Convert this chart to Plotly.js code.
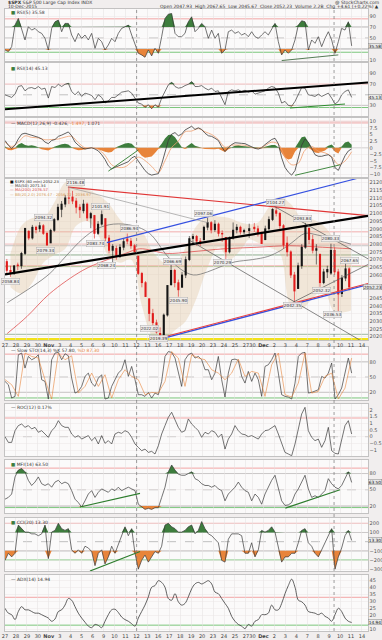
<!DOCTYPE html>
<html><head><meta charset="utf-8">
<script src="https://cdn.plot.ly/plotly-3.0.1.min.js"></script>
<style>html,body{margin:0;padding:0;background:#f1eeee;}#chart{width:382px;height:640px;}</style>
</head><body><div id="chart"></div>
<script>
// ---------- DATA ----------
const dayLabels = ['27','28','29','30','Nov','3','4','5','6','9','10','11','12','13','16','17','18','19','20','23','24','25','27','30','Dec','2','3','4','7','8','9','10','11','14'];
const halfSessionIndex = 22; // Nov 27 half session

const candleOpen = [
2068.7,2063,2061, 2066.5,2066,2074, 2088.4,2084,2091, 2090,2092,2087,
2080.8,2089,2096, 2102.6,2106,2110, 2110.6,2108,2104, 2101.7,2106,2097, 2098.6,2087,2093,
2096.6,2084,2076, 2077.2,2072,2078, 2083.4,2082,2079, 2072.3,2061,2055, 2044.6,2035,2029,
2022.1,2021,2034, 2053.7,2063,2055, 2052,2060,2070, 2083.7,2085,2082, 2082.8,2091,2094,
2089.4,2093,2087, 2084.4,2075,2084, 2089.3,2091,2088, 2088.8,
2091,2090,2087, 2082.9,2090,2096, 2101.7,2100,2092, 2080.7,2075,2060, 2051.2,2066,2078,
2090.4,2083,2076, 2073.4,2055,2062, 2061.2,2076,2062, 2047.9,2058,2064];
const candleHigh = [
2070.4,2066,2066.5, 2068,2075,2090.4, 2089,2092.5,2092, 2094.3,2093,2088,
2090,2097,2106.2, 2108,2112,2116.5, 2114.6,2110,2106, 2108.8,2107,2101, 2099,2095,2101.9,
2096.6,2086,2080, 2079,2080,2083.7, 2086.9,2084,2080, 2072.3,2062,2056, 2044.6,2038,2031,
2026,2035,2053.2, 2066.7,2064,2057, 2062,2072,2085.3, 2086.7,2086,2084, 2092,2097.1,2095,
2095.6,2094,2089, 2084.4,2085,2094.1, 2093,2092,2090, 2093.3,
2093.8,2092,2088, 2092,2098,2103.4, 2104.3,2101,2093, 2085,2076,2062, 2068,2080,2093.8,
2090.4,2086,2080, 2073.9,2064,2066, 2080.3,2078,2064, 2060,2067.7,2065];
const candleLow = [
2061,2058.8,2060, 2063.1,2064,2073, 2082.6,2083,2087, 2088,2086,2079.3,
2080.8,2088,2095, 2097.5,2104,2106, 2106,2100,2097, 2100,2095,2090.4, 2083.7,2086,2092,
2082,2074,2068.2, 2069.9,2071,2076, 2080,2077,2074.9, 2060,2052,2045.7, 2030,2027,2022,
2019.4,2020,2033, 2053,2052,2045.9, 2052,2058,2069, 2080,2079,2078.8, 2082.8,2089,2087,
2088,2085,2081.4, 2070.3,2074,2083, 2087,2086.3,2086.5, 2084.1,
2088,2085,2080.4, 2082.9,2089,2095, 2098,2090,2077.1, 2072,2058,2042.4, 2051.2,2064,2077,
2080,2074,2066.8, 2052.3,2054,2058, 2060,2060,2036.5, 2045.7,2056,2050];
const candleClose = [
2063,2061,2065.9, 2066,2074,2090.3, 2084,2091,2089.4, 2092,2087,2079.4,
2089,2096,2104, 2106,2110,2109.8, 2108,2104,2102.3, 2106,2097,2099.9, 2087,2093,2099.2,
2084,2076,2078.6, 2072,2078,2081.7, 2082,2079,2075, 2061,2055,2046, 2035,2029,2023,
2021,2034,2053.2, 2063,2055,2050.4, 2060,2070,2083.6, 2085,2082,2081.2, 2091,2094,2089.2,
2093,2087,2086.6, 2075,2084,2089.1, 2091,2088,2088.9, 2090.1,
2090,2087,2080.4, 2090,2096,2102.6, 2100,2092,2079.5, 2075,2060,2049.6, 2066,2078,2091.7,
2083,2076,2077.1, 2055,2062,2063.6, 2076,2062,2047.6, 2058,2064,2052.2];

const ma50Days = [0.2,2.6,4.1,5.6,7.1,8.4,9.9,11.7,13.2,14.8,16,17.2,18.5,19.9,21,22.6,24,25.2,26.2,27.4,28.5,29.7,30.6,31.6];
const ma50Vals = [2042,2053,2061,2072.5,2083.5,2090,2093,2092,2087,2072.5,2064,2060,2062,2066,2068.5,2070,2072,2076,2081,2087,2086,2084,2082,2080];
const ma200Days = [0.2,2,4.1,7.1,9,11,12.3,14.8,16.9,20,23,26,29,31.6];
const ma200Vals = [2022,2033,2048,2063,2069,2074,2077,2074,2075,2077,2078,2079,2078,2077];
const bbDays  = [0.5,1.5,2.5,3.5,4.5,5.5,6.5,7.5,8.5,9.5,10.5,11.5,12.5,13.5,14.5,15.5,16.5,17.5,18.5,19.5,20.5,21.5,22.3,23.1,24.1,25.1,26.1,27.1,28.1,29.1,30.1,31.1,31.6];
const bbUpper = [2074,2092,2097,2097,2107,2120,2120,2116,2112,2106,2096,2090,2088,2075,2068,2066,2078,2092,2098,2098,2097,2094,2093,2094,2104,2111,2106,2097,2096,2092,2084,2080,2077];
const bbLower = [2052,2048,2055,2068,2073,2077,2092,2095,2086,2072,2068,2070,2040,2020,2018,2024,2030,2045,2065,2078,2070,2076,2083,2081,2078,2074,2040,2038,2045,2050,2036,2036,2037];

const priceLabelDays = [0.5,3.5,3.7,6.4,8.7,8.3,11.4,9.3,13.2,14.0,15.3,15.8,18.1,19.9,24.7,27.2,26.3,28.9,29.7,29.95,31.5];
const priceLabelVals = [2055.5,2097,2076,2120.3,2104.5,2080.5,2090,2066,2025,2018.8,2069,2043.5,2100,2068,2107,2096.5,2040,2050,2083.5,2034.5,2069.5];
const priceLabelText = ['2058.84','2094.32','2079.34','2116.48','2101.91','2083.74','2086.94','2068.24','2022.02','2019.39','2066.69','2045.90','2097.06','2070.29','2104.27','2093.84','2042.35','2052.32','2080.33','2036.53','2067.65'];

const priceLevels = [2088,2080,2073,2065.5,2021.5,2018.5];

// trend lines: [day0, value0, day1, value1]
const priceTrends = [
 [5.75,2117,33.15,2098.5],
 [9.3,2081,33.15,2124.5],
 [0,2060.4,33.15,2098.4],
 [5.75,2117,18.5,2094],
 [24.6,2104.5,33.15,2070.5],
 [16.9,2082.3,32.7,2016.5],
 [26.3,2042.3,33.15,2066.8],
 [13.97,2018.0,33.15,2053.7],
 [13.97,2018.8,33.15,2054.5]];
const rsi5Trend = [25.27,8.8,30.44,19.1];
const rsi14Trends = [[0,22.7,33.15,73.0],[26.03,25.1,31.05,32.6]];
const macdTrends = [[9.44,-8.8,12.18,-0.83],[26.48,-10.36,30.59,-6.43]];
const mfiTrends = [[6.85,18.1,12.33,43.4],[25.6,16,30.6,50]];
const cciTrend = [7.76,-320,12.33,-108];

const rsi5 = [28.2,25.2,34.2,73.6,85.8,64.5,46.4,70.6,64.5,67.6,
61.5,58.5,49.4,28.2,67.6,79.7,82.7,61.5,76.7,76.7,
55.5,43.3,58.5,49.4,55.5,46.4,58.5,31.2,49.4,43.3,
28.2,37.3,49.4,43.3,58.5,67.6,70.6,73.6,55.5,40.3,
22.1,19.1,14.8,28.2,17.3,31.2,22.1,52.4,85.8,93.6,
94.8,58.5,52.4,52.4,58.5,79.7,88.8,61.5,67.6,76.7,
70.6,49.4,64.5,49.4,58.5,22.1,28.2,61.5,64.5,58.5,
61.5,55.5,58.5,52.4,61.5,52.4,49.4,55.5,61.5,55.5,
67.6,76.7,43.3,19.1,28.2,22.1,28.2,46.4,73.6,81.5,
79.7,28.2,46.4,40.3,52.4,34.2,49.4,61.5,46.4,22.1,
43.3,67.6,64.5,79.7,35.58];
const rsi14 = [50,46.9,45.0,51.2,65.6,67.4,57.5,62.5,63.7,61.2,
65.6,60.6,62.5,43.8,65.6,63.7,69.9,65.6,69.9,71.8,
56.2,50,56.2,46.9,53.1,51.2,48.8,40.7,50,45.0,
34.4,38.8,45.0,45.0,50,55.0,56.2,57.5,53.1,43.8,
34.4,32.6,26.3,31.3,23.8,31.3,26.3,43.8,57.5,68.7,
73.7,65.6,62.5,63.7,67.4,69.9,74.9,65.6,65.6,67.4,
62.5,59.3,62.5,56.2,57.5,43.8,31.3,56.2,59.3,57.5,
59.3,56.2,58.7,55.0,57.5,51.2,53.1,56.2,57.5,62.5,
65.6,63.7,53.1,34.4,37.5,30.1,28.5,37.5,50,63.7,
62.5,50,48.8,46.9,51.2,46.9,50,53.1,43.8,32.6,
37.5,50,56.2,59.3,45.13];
const macdLine = [2.74,0.95,-0.24,0.95,3.33,5.12,5.48,5.12,4.76,4.29,
3.93,3.33,2.14,1.55,2.74,3.10,4.29,4.76,5.48,5.95,
4.52,2.14,0.95,0,-0.48,-0.24,0,-0.48,-1.19,-2.62,
-4.40,-6.79,-7.98,-7.38,-6.79,-6.19,-5.60,-5.24,-3.81,-3.21,
-5.00,-6.79,-8.57,-9.76,-10.3,-10.0,-9.76,-6.19,-1.43,2.74,
5.12,5.71,4.52,5.12,6.67,7.5,8.10,6.90,7.5,6.90,
5.48,4.52,4.29,3.57,2.74,0.36,-1.43,0,1.19,1.90,
1.90,1.67,1.55,0.95,0.36,-0.24,-0.48,0,1.19,2.14,
3.10,3.57,1.55,-3.81,-7.38,-9.17,-10.3,-8.57,-3.81,0.95,
3.33,2.14,-0.24,-2.62,-3.21,-3.21,-2.86,-2.62,-3.5,-7.5,
-8.5,-6.0,-3.0,-1.2,-0.43];
const macdSignal = [2.2,0.5,2.1,4.5,3.9,3.7,3.0,3.1,3.3,4.0,
4.3,1.9,0,-0.1,-0.6,-2.9,-6.4,-7.4,-7.2,-5.3,
-3.5,-4.8,-7.0,-9.3,-4.9,0.1,2.5,6.0,6.3,7.2,
6.0,5.0,3.1,0.2,1.0,1.0,0.95,0.06,-0.2,0.8,
2.1,1.35,-3.5,-6.4,-5.8,-0.9,0.5,-1.3,-1.9,-3.3,
-6.3,-5.0,-1.5];
const macdHist = [0.5,-0.8,-0.9,-0.3,1.2,1.8,1.0,0.8,0.9,0.7,
0.2,-0.6,-0.9,-1.0,-0.4,0.5,1.0,1.3,1.5,1.2,
0.2,-0.6,-0.9,-0.8,-0.5,-0.2,0.1,-0.3,-0.6,-1.0,
-1.5,-1.8,-1.6,-0.5,0.6,1.2,1.6,1.8,1.5,0.3,
-1.5,-3.0,-3.8,-3.6,-3.3,-2.0,-0.5,1.5,3.5,4.8,
5.0,4.0,2.0,0.3,-0.5,1.0,1.8,0.8,0.3,-0.2,
-0.5,-0.6,-0.7,-0.6,-0.4,-1.0,-1.6,-0.6,0.2,0.8,
0.9,0.7,0.6,0.5,0.3,0.2,-0.3,-0.2,0.4,0.8,
1.0,1.0,0.2,-2.0,-3.8,-4.4,-4.0,-1.5,2.0,4.0,
4.2,2.0,-0.8,-1.8,-2.0,-1.6,-1.0,0.8,1.2,-1.5,
-2.2,0.5,2.0,2.4,1.1];
const stochK = [41.5,35.0,8.8,12.1,93.8,97.1,67.6,90.5,84.0,87.3,
93.8,44.8,41.5,6.9,84.0,97.1,98.4,84.0,95.8,91.8,
48.0,18.6,21.9,31.7,51.3,57.8,38.2,31.7,48.0,54.6,
6.9,8.8,31.7,44.8,57.8,64.4,84.0,51.3,70.9,44.8,
15.4,15.4,12.1,19.9,8.8,18.6,15.4,41.5,90.5,100,
98.4,87.3,57.8,31.7,84.0,93.8,97.1,87.3,90.5,84.0,
64.4,64.4,44.8,57.8,90.5,44.8,10.8,57.8,84.0,85.3,
82.7,51.3,38.2,61.1,41.5,57.8,44.8,12.1,70.9,74.2,
84.0,97.1,57.8,15.4,12.1,10.8,6.9,38.2,90.5,97.1,
98.4,18.6,19.9,21.9,25.2,51.3,48.0,57.8,77.5,6.9,
15.4,28.4,57.8,87.3,57.8];
const stochD = [45,35.0,12.1,97.1,90.5,87.3,44.8,6.9,97.1,84.0,
91.8,18.6,31.7,57.8,31.7,54.6,8.8,44.8,64.4,51.3,
44.8,15.4,19.9,18.6,41.5,100,87.3,31.7,93.8,87.3,
84.0,64.4,57.8,44.8,57.8,85.3,51.3,61.1,57.8,12.1,
74.2,97.1,15.4,10.8,38.2,97.1,18.6,21.9,51.3,57.8,
6.9,28.4,87.3];
const roc12 = [0,-0.43,-0.43,0.45,0.83,0.95,0.7,0.83,0.58,0.7,
0.33,0.45,0.2,-0.05,0.45,0.7,1.2,0.83,0.7,0.7,
0.2,-0.05,0.08,-0.18,-0.05,0.08,-0.3,-0.05,-0.55,0.08,
-0.5,-0.3,-0.55,0.2,0.33,0.25,0.45,0.33,-0.05,-0.55,
-0.8,-1.05,-0.93,-1.18,-1.1,-1.3,-0.68,0.2,0.83,1.45,
1.83,1.2,0.7,0.33,0.45,1.33,0.95,0.7,0.45,-0.05,
0.33,0.2,0.45,0.33,-0.05,0.2,-0.93,-0.18,0.2,0.83,
0.45,0.2,0.15,0,0.08,-0.05,-0.18,0.2,0.45,0.5,
0.7,0.83,0.2,-0.55,-1.18,-1.3,-1.43,-0.55,0.7,1.7,
2.2,0.45,-0.05,-0.3,-0.18,-0.8,-0.3,0.7,-1.05,-1.25,
-1.3,-0.3,0.83,1.2,0.2];
const mfi14 = [32.6,35.8,42.1,73.7,86.3,89.5,83.2,67.4,57.9,64.2,
73.7,61.1,57.9,61.1,54.7,64.2,67.4,61.1,64.2,61.1,
48.4,32.6,26.3,18.1,29.5,42.1,48.4,35.8,45.3,51.6,
48.4,45.3,51.6,48.4,54.7,48.4,51.6,54.7,51.6,48.4,
23.2,18.1,13.7,15.6,13.7,16.8,16.8,35.8,54.7,83.2,
95.8,86.3,78.7,76.8,76.8,80.0,83.2,70.5,67.4,61.1,
57.9,57.9,54.7,57.9,51.6,48.4,29.5,42.1,48.4,54.7,
64.2,54.7,48.4,45.3,29.5,42.1,35.8,23.2,42.1,54.7,
67.4,76.8,54.7,29.5,21.0,22.0,26.3,42.1,51.6,64.2,
76.8,51.6,35.8,38.9,35.8,42.1,48.4,70.5,61.1,54.7,
51.6,57.9,70.5,83.2,63.5];
const cci20 = [-204,-127,-166,-127,181,142,104,104,85,85,
65,85,181,-185,104,123,200,142,123,142,
-89,-127,-89,-127,-50,-69,-108,-262,-127,-89,
-243,-166,-50,-127,-31,46,162,65,142,-127,
-300,-204,-146,-223,-166,-108,-127,-50,181,200,
162,142,104,104,123,162,181,85,123,219,
142,85,65,27,-12,-204,-223,27,85,85,
85,65,-127,-127,-12,-166,-89,123,104,123,
162,104,-50,-223,-166,-166,-127,-127,-12,123,
142,-12,-50,-127,-166,-89,-12,65,142,-300,
-166,-69,65,123,13.3];
const adx14 = [25.1,21.6,20.5,17.0,22.8,26.3,24.0,24.0,22.8,21.6,
21.6,20.5,19.3,18.1,15.8,17.4,22.8,24.0,27.4,32.1,
30.9,26.3,21.6,18.1,15.1,12.3,11.2,13.5,12.8,11.2,
15.8,20.5,24.0,24.4,22.1,18.8,17.0,15.8,14.0,12.3,
18.1,22.8,27.4,33.3,40.2,41.4,44.9,43.7,40.2,32.1,
30.9,35.6,29.8,27.4,28.6,33.3,39.1,42.6,43.7,42.6,
43.7,44.9,42.6,36.7,35.6,32.1,28.6,25.1,19.3,15.8,
13.5,12.3,10.5,13.5,12.3,15.8,17.0,20.5,20.5,21.6,
27.4,24.0,24.0,28.6,35.6,41.4,46.0,40.2,30.9,29.8,
27.4,22.8,22.1,21.6,20.5,21.6,19.3,18.1,15.8,20.5,
25.1,22.8,18.1,15.8,14.94];

const headerLeft = ['<b>$SPX</b> S&P 500 Large Cap Index INDX', '10-Dec-2015'];
const headerRight = ['@ StockCharts.com', 'Open 2047.93  High 2067.65  Low 2045.67  Close 2052.23  Volume 2.2B  Chg +4.61 (+0.22%) \u25B2'];
const legends = {
  rsi5: 'RSI(5) 35.58', rsi14: 'RSI(14) 45.13',
  macd: ['MACD(12,26,9) -0.426, ', '-1.497', ', 1.071'],
  price: ['$SPX (60 min) 2052.23', 'MA(50) 2071.34', 'MA(200) 2076.57', 'BB(20,2.0) 2076.47 - 2056.72 - 2036.97'],
  stoch: ['Slow STO(14,3) %K 57.80, ', '%D 87.30'],
  roc: 'ROC(12) 0.17%', mfi: 'MFI(14) 63.50', cci: 'CCI(20) 13.30', adx: 'ADX(14) 14.94'
};

// ---------- BUILD ----------
const W = 382, H = 640, MB = 9, PH = H - MB;
const dom = (t, b) => [(PH - b) / PH, (PH - t) / PH];
const pp = p => (PH - p) / PH;
const dayPos = dayLabels.map((_, i) => i > halfSessionIndex ? i - 0.4 : i);
const dayLen = i => i === halfSessionIndex ? 0.6 : 1;
const tickText = dayLabels.map(l => (l === 'Nov' || l === 'Dec') ? '<b>' + l + '</b>' : l);
const SAMPLES_PER_DAY = 3.285;
const xs = n => Array.from({length: n}, (_, k) => k / SAMPLES_PER_DAY);
const xs2 = n => Array.from({length: n}, (_, k) => 2 * k / SAMPLES_PER_DAY);

const candleX = [];
for (let d = 0; d < 32; d++) {
  const n = d === halfSessionIndex ? 1 : 3;
  for (let j = 0; j < n; j++) candleX.push(dayPos[d] + dayLen(d) * (j + 0.5) / n);
}

const GREEN = '#3d7d3d', ORANGE = '#e8843a', LINE = '#3a3a3a';
const traces = [];
const L = (x, y, ya, color, width, extra) => traces.push(Object.assign({type: 'scatter', mode: 'lines', x, y, xaxis: ya === 'y4' ? 'x2' : 'x', yaxis: ya, line: {color, width}, hoverinfo: 'skip'}, extra || {}));

function bandFills(x, v, ya, hi, lo) {
  L(x, x.map(() => hi), ya, 'rgba(0,0,0,0)', 0);
  L(x, v.map(a => Math.max(a, hi)), ya, 'rgba(0,0,0,0)', 0, {fill: 'tonexty', fillcolor: GREEN});
  L(x, x.map(() => lo), ya, 'rgba(0,0,0,0)', 0);
  L(x, v.map(a => Math.min(a, lo)), ya, 'rgba(0,0,0,0)', 0, {fill: 'tonexty', fillcolor: ORANGE});
}

// Panel 1 RSI5
bandFills(xs(rsi5.length), rsi5, 'y', 70, 30);
L(xs(rsi5.length), rsi5, 'y', LINE, 0.7);
// Panel 2 RSI14
bandFills(xs(rsi14.length), rsi14, 'y2', 70, 30);
L(xs(rsi14.length), rsi14, 'y2', LINE, 0.7);
// Panel 3 MACD
L(xs(macdHist.length), macdHist.map(v => Math.max(v, 0)), 'y3', 'rgba(0,0,0,0)', 0, {fill: 'tozeroy', fillcolor: GREEN});
L(xs(macdHist.length), macdHist.map(v => Math.min(v, 0)), 'y3', 'rgba(0,0,0,0)', 0, {fill: 'tozeroy', fillcolor: ORANGE});
L(xs2(macdSignal.length), macdSignal, 'y3', '#f0a070', 0.8, {line: {color: '#f0a070', width: 0.8, shape: 'spline'}});
L(xs(macdLine.length), macdLine, 'y3', LINE, 0.8);
// Panel 4 price
L(bbDays, bbUpper, 'y4', 'rgba(0,0,0,0)', 0, {line: {width: 0, shape: 'spline'}});
L(bbDays, bbLower, 'y4', 'rgba(0,0,0,0)', 0, {fill: 'tonexty', fillcolor: 'rgba(222,190,150,0.33)', line: {width: 0, shape: 'spline'}});
L(ma200Days, ma200Vals, 'y4', '#e05050', 0.8, {line: {color: '#e05050', width: 0.8, shape: 'spline'}});
L(ma50Days, ma50Vals, 'y4', '#777', 0.8, {line: {color: '#777', width: 0.8, shape: 'spline'}});
// candles drawn as wick + body segments through the price axes
function candleTrace(up) {
  const wx = [], wy = [], bx = [], by = [];
  candleX.forEach((x, i) => {
    const isUp = candleClose[i] >= candleOpen[i];
    if (isUp !== up) return;
    wx.push(x, x, null); wy.push(candleLow[i], candleHigh[i], null);
    const lo = Math.min(candleOpen[i], candleClose[i]), hi = Math.max(candleOpen[i], candleClose[i]);
    bx.push(x, x, null); by.push(lo - 0.25, hi + 0.25, null);
  });
  const col = up ? '#151515' : '#e01b1b';
  L(wx, wy, 'y4', col, 0.6);
  L(bx, by, 'y4', col, 2.1);
}
candleTrace(true); candleTrace(false);
// Panel 5 stoch
L(xs(stochK.length), stochK, 'y5', LINE, 0.7);
L(xs2(stochD.length), stochD, 'y5', 'rgba(232,132,58,0.85)', 0.7);
// Panel 6 ROC
L(xs(roc12.length), roc12, 'y6', LINE, 0.7);
// Panel 7 MFI
bandFills(xs(mfi14.length), mfi14, 'y7', 80, 20);
L(xs(mfi14.length), mfi14, 'y7', LINE, 0.7);
// Panel 8 CCI
bandFills(xs(cci20.length), cci20, 'y8', 100, -100);
L(xs(cci20.length), cci20, 'y8', LINE, 0.7);
// Panel 9 ADX
L(xs(adx14.length), adx14, 'y9', LINE, 0.8, {line: {color: LINE, width: 0.8, shape: 'spline'}});

// ---------- SHAPES ----------
const shapes = [];
const hline = (yref, y, color, width, dash) => shapes.push({type: 'line', xref: 'paper', x0: 0, x1: 1, yref, y0: y, y1: y, line: {color, width, dash: dash || 'solid'}, layer: 'below'});
const seg = (xref, yref, t, color, width) => shapes.push({type: 'line', xref, yref, x0: t[0], y0: t[1], x1: t[2], y1: t[3], line: {color, width}});
const PINK = '#f2a5a5', GR = '#8a8a8a', GRN = '#7cc67c';
hline('y', 85, PINK, 1); hline('y', 70, GR, 0.7); hline('y', 50, '#999', 0.6, 'dash'); hline('y', 30, GR, 0.7); hline('y', 24, GRN, 1);
hline('y2', 70, PINK, 1); hline('y2', 50, '#999', 0.6, 'dash'); hline('y2', 30, GR, 0.7); hline('y2', 26, GRN, 1);
hline('y3', 9.6, '#f3c9c9', 3); hline('y3', 0, '#999', 0.5);
[[2088, PINK, 0.9], [2080, PINK, 0.9], [2079, '#b9b9b9', 0.8], [2073, '#8fae8f', 1], [2065.5, '#b5d5a5', 1.2], [2066, PINK, 0.8], [2021.5, '#9fb89f', 1]].forEach(l => hline('y4', l[0], l[1], l[2]));
hline('y4', priceLevels[5], '#f2e21a', 2);
hline('y5', 95, PINK, 1); hline('y5', 80, GR, 0.7); hline('y5', 50, '#999', 0.6, 'dash'); hline('y5', 20, GR, 0.7); hline('y5', 9, GRN, 1);
hline('y6', 1.4, PINK, 1); hline('y6', 0, '#999', 0.6, 'dash');
hline('y7', 90, PINK, 1); hline('y7', 80, GR, 0.7); hline('y7', 50, '#999', 0.6, 'dash'); hline('y7', 20, GR, 0.7); hline('y7', 17, GRN, 1);
hline('y8', 200, PINK, 1); hline('y8', 100, GR, 0.7); hline('y8', 0, '#999', 0.6, 'dash'); hline('y8', -100, GR, 0.7); hline('y8', -200, GRN, 1);
hline('y9', 33, PINK, 1); hline('y9', 13, GRN, 1);

const trendStyle = [['#e03535', 1.1], ['#3550e0', 1.1], ['#000', 2.2], ['#999', 0.7], ['#555', 0.7], ['#555', 0.7], ['#555', 0.7], ['#3550e0', 1.3], ['#e84040', 1.1]];
priceTrends.forEach((t, i) => seg('x2', 'y4', t, trendStyle[i][0], trendStyle[i][1]));
seg('x', 'y', rsi5Trend, '#2c5a2c', 0.8);
seg('x', 'y2', rsi14Trends[0], '#000', 2);
seg('x', 'y2', rsi14Trends[1], '#2e8b2e', 1);
macdTrends.forEach(t => seg('x', 'y3', t, '#2e7d2e', 0.9));
mfiTrends.forEach(t => seg('x', 'y7', t, '#2e7d2e', 1.2));
seg('x', 'y8', cciTrend, '#2e7d2e', 1.2);
[12.02, 30.05].forEach(d => shapes.push({type: 'line', xref: 'x', yref: 'paper', x0: d, x1: d, y0: 0, y1: pp(9), line: {color: '#777', width: 0.7, dash: 'dot'}}));

// ---------- ANNOTATIONS ----------
const ann = [];
const txt = (text, x, yPx, opts) => ann.push(Object.assign({text, xref: 'paper', yref: 'paper', x, y: pp(yPx), xanchor: 'left', yanchor: 'middle', showarrow: false, font: {size: 4.5, color: '#333'}}, opts || {}));
txt(headerLeft[0], 0.003, 2.6);
txt(headerLeft[1], 0.003, 6.4);
txt(headerRight[0], 1.035, 2.6, {xanchor: 'right'});
txt(headerRight[1], 1.035, 6.4, {xanchor: 'right'});
const sq = c => '<span style="color:' + c + '">\u25A0</span> ';
txt(sq(GREEN) + legends.rsi5, 0.012, 12);
txt(sq(GREEN) + legends.rsi14, 0.012, 68.5);
txt('<span style="color:#333">\u2014</span> ' + legends.macd[0] + '<span style="color:#e8843a">' + legends.macd[1] + '</span>' + legends.macd[2], 0.012, 124);
const legOpt = {font: {size: 3.8, color: '#333'}, borderpad: 0};
txt(sq('#111') + legends.price[0], 0.012, 181.3, legOpt);
txt('<span style="color:#777">\u2014</span> ' + legends.price[1], 0.012, 185.6, legOpt);
txt('<span style="color:#e05050">\u2014 ' + legends.price[2] + '</span>', 0.012, 189.9, legOpt);
txt('<span style="color:#d49a5a">\u2014 ' + legends.price[3] + '</span>', 0.012, 194.2, legOpt);
txt('\u2014 ' + legends.stoch[0] + '<span style="color:#e8843a">' + legends.stoch[1] + '</span>', 0.012, 350.5);
txt('\u2014 ' + legends.roc, 0.012, 407.5);
txt(sq(GREEN) + legends.mfi, 0.012, 464);
txt(sq(GREEN) + legends.cci, 0.012, 522);
txt('\u2014 ' + legends.adx, 0.012, 579);

priceLabelText.forEach((t, i) => ann.push({text: t, xref: 'x2', yref: 'y4', x: priceLabelDays[i], y: priceLabelVals[i], showarrow: false,
  font: {size: 4.2, color: '#333'}, bgcolor: 'rgba(238,236,236,0.9)', bordercolor: '#b0b0b0', borderwidth: 0.5, borderpad: 0.3}));

const RIGHT_EDGE = (W - 5 - 0.5) / (W - 5 - 14);
const box = (yref, v, text, col) => ann.push({text, xref: 'paper', yref, x: RIGHT_EDGE, y: v, xanchor: 'right', showarrow: false,
  font: {size: 4.3, color: '#111'}, bgcolor: col || '#e8e8e8', bordercolor: '#888', borderwidth: 0.5, borderpad: 0.2});
box('y', rsi5[rsi5.length - 1], rsi5[rsi5.length - 1].toFixed(2));
box('y2', rsi14[rsi14.length - 1], rsi14[rsi14.length - 1].toFixed(2));
box('y4', candleClose[candleClose.length - 1], '2052.23');
box('y7', mfi14[mfi14.length - 1], mfi14[mfi14.length - 1].toFixed(2));
box('y8', cci20[cci20.length - 1], cci20[cci20.length - 1].toFixed(2));
box('y9', adx14[adx14.length - 1], adx14[adx14.length - 1].toFixed(2));

// ---------- AXES ----------
// hide a tick label that would sit under a value box
const clearTicks = (vals, range, t, b, boxVal) => vals.filter(v => boxVal === undefined || Math.abs(v - boxVal) * (b - t) / (range[1] - range[0]) > 5.5);
const yax = (t, b, range, tickvals, boxVal, extra) => Object.assign({domain: dom(t, b), range, tickvals: clearTicks(tickvals, range, t, b, boxVal), side: 'right', showline: true, mirror: true,
  linecolor: '#a5a5a5', linewidth: 0.6, showgrid: true, gridcolor: '#ebe6e6', gridwidth: 0.5, zeroline: false, ticks: '',
  tickfont: {size: 5, color: '#555', family: 'DejaVu Sans'}, fixedrange: true, anchor: 'x'}, extra || {});
const priceTicks = []; for (let p = 2020; p <= 2120; p += 5) priceTicks.push(p);
const xcommon = {range: [0, 33.15], tickvals: dayPos, ticktext: tickText, tickangle: 0, showgrid: true, gridcolor: '#e4dfdf', gridwidth: 0.5,
  showline: true, mirror: 'all', linecolor: '#a5a5a5', linewidth: 0.6, ticks: '', zeroline: false, fixedrange: true,
  tickfont: {size: 5, color: '#444', family: 'DejaVu Sans'}};
const last = a => a[a.length - 1];

const layout = {
  width: W, height: H, margin: {l: 5, r: 14, t: 0, b: MB, pad: 0},
  paper_bgcolor: '#f1eeee', plot_bgcolor: '#fbfafa', showlegend: false,
  font: {family: 'DejaVu Sans', size: 5, color: '#333'},
  xaxis: Object.assign({domain: [0, 1], anchor: 'y9'}, xcommon),
  xaxis2: Object.assign({matches: 'x', anchor: 'y4'}, xcommon),
  yaxis: yax(9, 61, [8, 103], [10, 30, 50, 70, 90], last(rsi5)),
  yaxis2: yax(63, 116, [10, 110], [30, 50, 70, 90], last(rsi14)),
  yaxis3: yax(118, 177, [-11, 11.2], [-10, -7.5, -5, -2.5, 0, 2.5, 5, 7.5, 10]),
  yaxis4: yax(179, 340, [2017.8, 2122.3], priceTicks, last(candleClose), {anchor: 'x2'}),
  yaxis5: yax(347, 400, [5, 109], [20, 50, 80]),
  yaxis6: yax(404, 456, [-1.45, 2.45], [-1, -0.5, 0, 0.5, 1, 1.5, 2]),
  yaxis7: yax(460, 513, [7, 105], [20, 50, 80], last(mfi14)),
  yaxis8: yax(518, 571, [-320, 258], [-300, -200, -100, 0, 100, 200], last(cci20)),
  yaxis9: yax(575, 631, [8.8, 49], [10, 15, 20, 25, 30, 35, 40, 45], last(adx14)),
  shapes, annotations: ann
};

Plotly.newPlot('chart', traces, layout, {staticPlot: true, displayModeBar: false});
</script></body></html>
